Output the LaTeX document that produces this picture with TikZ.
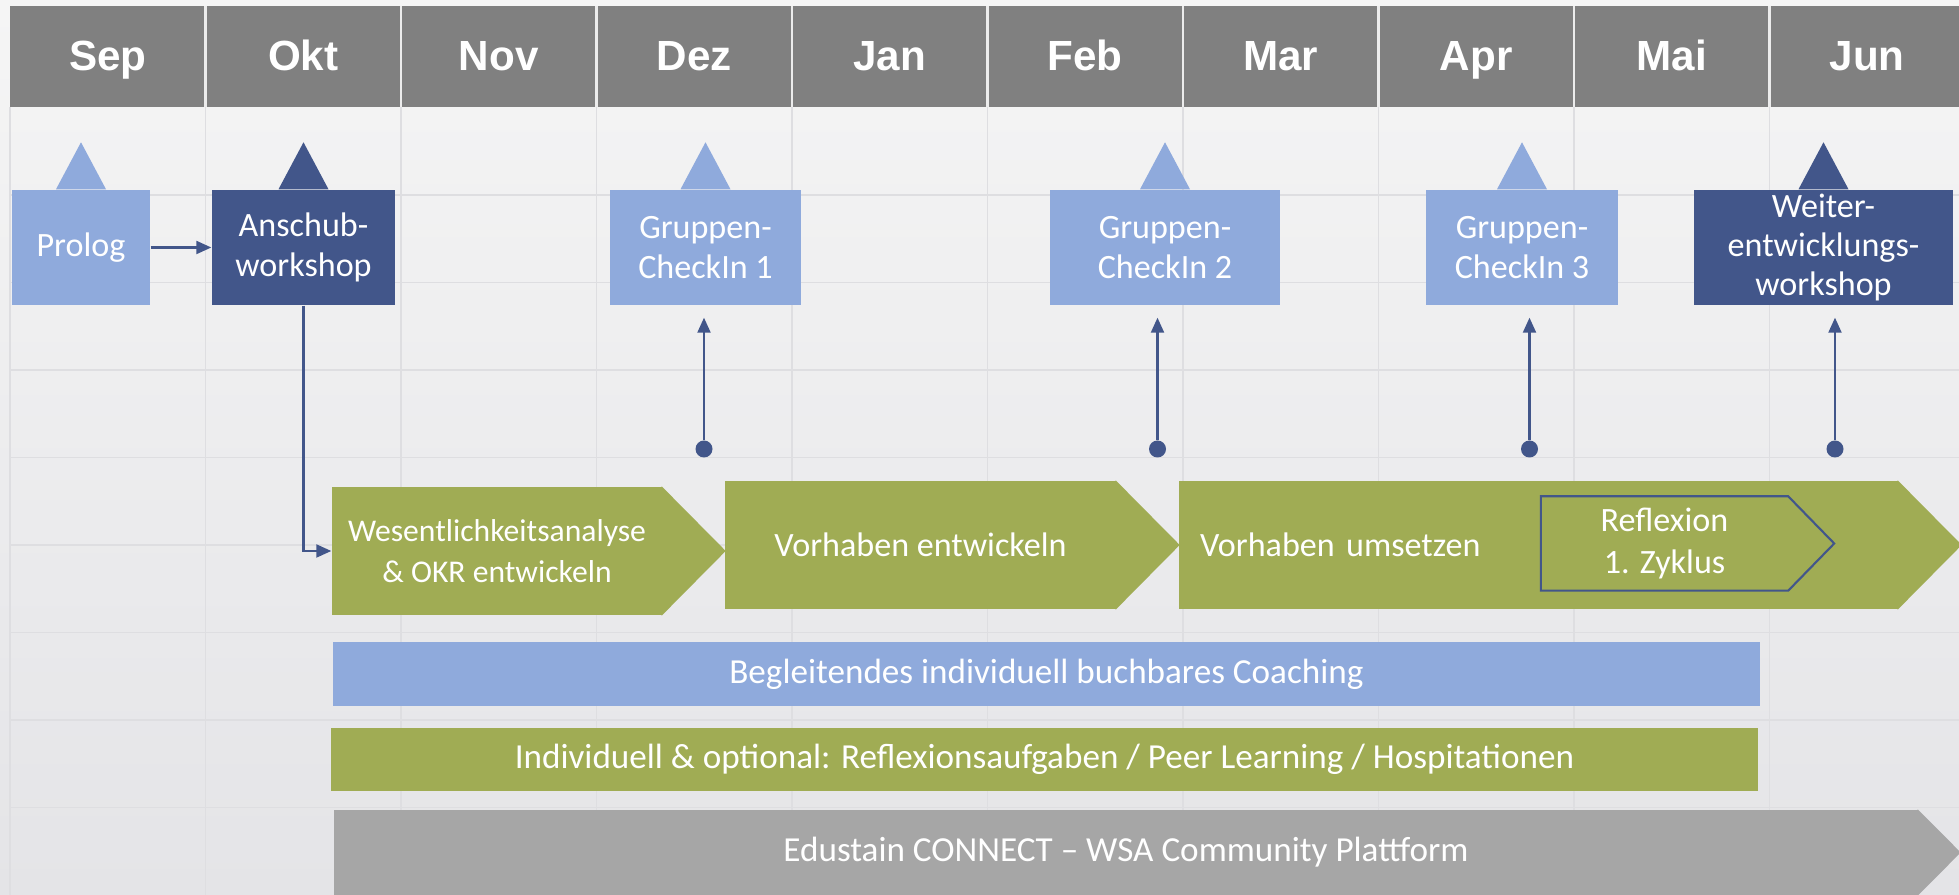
\documentclass[tikz,border=0pt]{standalone}
\usepackage{fontspec}
\setmainfont{Carlito}
\newfontfamily\monthfont{Liberation Sans}
\usetikzlibrary{arrows.meta}
\definecolor{hdgrey}{RGB}{128,128,128}
\definecolor{lblue}{RGB}{143,170,220}
\definecolor{dblue}{RGB}{66,86,138}
\definecolor{olive}{RGB}{160,172,84}
\definecolor{bargrey}{RGB}{166,166,166}
\definecolor{gridgrey}{RGB}{222,222,225}
\definecolor{bgtop}{RGB}{245,245,245}
\definecolor{bgbot}{RGB}{228,228,231}
\tikzset{
  box/.style={inner sep=0pt, align=center, text=white, minimum height=11.5mm, font=\fontsize{9.7}{11.5}\selectfont},
  light/.style={box, fill=lblue},
  dark/.style={box, fill=dblue},
  phase/.style={fill=olive, text=white, inner sep=0pt, minimum height=12.8mm, align=center, font=\fontsize{9.7}{12}\selectfont},
  bar/.style={text=white, inner sep=0pt, font=\fontsize{10}{12}\selectfont},
  dot/.style={circle, fill=dblue, inner sep=0pt, minimum size=1.7mm},
  conn/.style={draw=dblue, line width=0.6pt, -{Triangle[length=1.5mm,width=1.3mm]}}
}

\begin{document}
\begin{tikzpicture}
    \useasboundingbox (0,0) rectangle (19.59,8.95);
    \clip (0,0) rectangle (19.59,8.95);
    \shade [top color=bgtop, bottom color=bgbot] (0,0) rectangle (19.59,8.95);

    % grid
    \foreach \i in {0,...,9} {
      \draw [gridgrey, line width=0.45pt] ({0.10+1.955*\i},0) -- ({0.10+1.955*\i},7.875);
    }
    \foreach \k in {1,...,8} {
      \draw [gridgrey, line width=0.45pt] (0.10,{0.875*\k}) -- (19.59,{0.875*\k});
    }

    % months
    \fill [hdgrey] (0.10,7.875) rectangle (19.59,8.89);
    \foreach \m [count=\i from 0] in {Sep,Okt,Nov,Dez,Jan,Feb,Mar,Apr,Mai,Jun} {
      \node [anchor=base, text=white, font=\monthfont\bfseries\fontsize{12}{14}\selectfont] (m\i) at ({0.10+1.955*(\i+0.5)},8.245) {\m};
    }
    \foreach \i in {1,...,9} {
      \draw [white!85!gray, line width=0.6pt] ({0.10+1.955*\i},7.875) -- ({0.10+1.955*\i},8.89);
    }

    % milestones
    \node [light, minimum width=13.8mm] (prolog) at (0.81,6.475) {Prolog};
    \node [dark, minimum width=18.3mm] (anschub) at (3.035,6.475) {Anschub-\\workshop};
    \node [light, minimum width=19.1mm] (check1) at (7.055,6.475) {Gruppen-\\CheckIn 1};
    \node [light, minimum width=23mm] (check2) at (11.65,6.475) {Gruppen-\\CheckIn 2};
    \node [light, minimum width=19.2mm] (check3) at (15.22,6.475) {Gruppen-\\CheckIn 3};
    \node [dark, minimum width=25.9mm, font=\fontsize{9.7}{11}\selectfont] (weiter) at (18.235,6.475) {Weiter-\\entwicklungs-\\workshop};
    \foreach \n/\c in {prolog/lblue, anschub/dblue, check1/lblue, check2/lblue, check3/lblue, weiter/dblue} {
      \fill [\c] ([xshift=-2.5mm]\n.north) -- ([yshift=4.7mm]\n.north) -- ([xshift=2.5mm]\n.north) -- cycle;
    }
    \draw [conn] (prolog.east) -- (anschub.west);

    % phases
    \node [phase, minimum width=33mm, font=\fontsize{9}{11.7}\selectfont] (wes) at (4.97,3.44) {Wesentlichkeitsanalyse\\\& OKR entwickeln};
    \node [phase, minimum width=39.1mm] (vorh) at (9.205,3.50) {Vorhaben entwickeln};
    \node [phase, minimum width=71.9mm, text width=67.7mm, align=left] (ums) at (15.385,3.50) {Vorhaben umsetzen};
    \foreach \n in {wes,vorh,ums} {
      \fill [olive] ([xshift=-0.3pt]\n.north east) -- ([xshift=6.3mm]\n.east) -- ([xshift=-0.3pt]\n.south east) -- cycle;
    }
    \node [phase, minimum width=24.6mm, minimum height=9.3mm] (refl) at (16.645,3.515) {Reflexion\\1. Zyklus};
    \draw [dblue, line width=0.6pt] (refl.north west) -- (refl.north east) -- ([xshift=4.6mm]refl.east) -- (refl.south east) -- (refl.south west) -- cycle;
    \draw [conn] (anschub.south) |- (wes.west);

    % check-in links
    \node [dot] (d1) at (7.04,4.46) {};
    \node [dot] (d2) at (11.575,4.46) {};
    \node [dot] (d3) at (15.295,4.46) {};
    \node [dot] (d4) at (18.35,4.46) {};
    \foreach \d/\t in {d1/check1, d2/check2, d3/check3, d4/weiter} {
      \draw [conn, shorten >=1.2mm] (\d) -- (\d |- \t.south);
    }

    % bars
    \node [bar, fill=lblue, minimum width=142.7mm, minimum height=6.4mm] (coach) at (10.465,2.21) {Begleitendes individuell buchbares Coaching};
    \node [bar, fill=olive, minimum width=142.7mm, minimum height=6.3mm] (indiv) at (10.445,1.355) {Individuell \& optional: Reflexionsaufgaben / Peer Learning / Hospitationen};
    \node [bar, fill=bargrey, minimum width=158.4mm, minimum height=8.5mm] (connect) at (11.26,0.425) {Edustain CONNECT -- WSA Community Plattform};
    \fill [bargrey] ([xshift=-0.3pt]connect.north east) -- ([xshift=4.2mm]connect.east) -- ([xshift=-0.3pt]connect.south east) -- cycle;
\end{tikzpicture}
\end{document}
